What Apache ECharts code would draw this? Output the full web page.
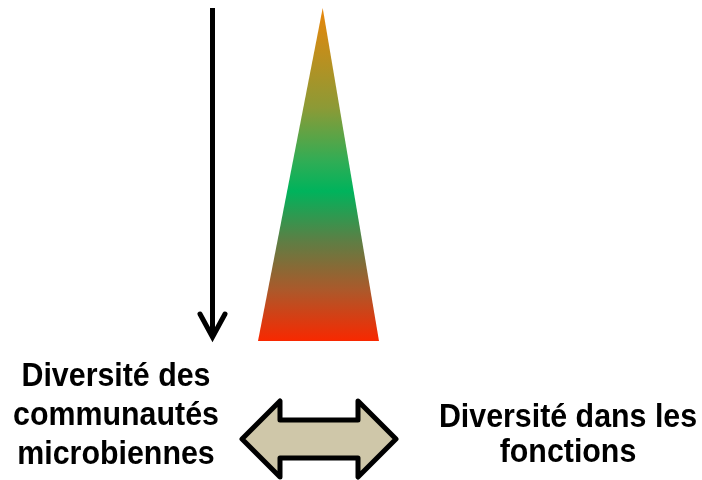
<!DOCTYPE html>
<html><head><meta charset="utf-8">
<script src="https://cdn.jsdelivr.net/npm/echarts@6/dist/echarts.min.js"></script>
<style>html,body{margin:0;padding:0;background:#fff}#c{width:702px;height:480px}</style>
</head><body><div id="c"></div>
<script>
var leftLabel = ['Diversité des', 'communautés', 'microbiennes'];
var rightLabel = ['Diversité dans les', 'fonctions'];
var gradientStops = [
  [0, '#e8860a'], [0.3, '#8c9a36'], [0.46, '#30ad55'], [0.55, '#00b35c'],
  [0.7, '#5e7e44'], [0.85, '#ad582a'], [1, '#f82800']
];
var FONT = '"Liberation Sans Narrow", "Arial Narrow", "Liberation Sans", Arial, sans-serif';

var chart = echarts.init(document.getElementById('c'), null, {renderer: 'canvas'});
var graphics = [];
// vertical arrow
graphics.push({type: 'line', shape: {x1: 212.5, y1: 8, x2: 212.5, y2: 336}, style: {stroke: '#000', lineWidth: 5}});
graphics.push({type: 'polyline', shape: {points: [[200, 314], [212.5, 337], [225, 314]]},
  style: {stroke: '#000', lineWidth: 5, fill: null, lineJoin: 'miter', lineCap: 'round'}});
// triangle
graphics.push({type: 'polygon', shape: {points: [[322.7, 8], [379, 341], [258, 341]]},
  style: {fill: {type: 'linear', x: 0, y: 0, x2: 0, y2: 1,
    colorStops: gradientStops.map(function (s) { return {offset: s[0], color: s[1]}; })}}});
// double arrow
graphics.push({type: 'polygon', shape: {points: [
  [242, 439], [280, 401], [280, 420], [358, 420], [358, 401], [396, 439],
  [358, 477], [358, 458], [280, 458], [280, 477]]},
  style: {fill: '#cfc7a9', stroke: '#000', lineWidth: 5, lineJoin: 'round'}});
// texts
leftLabel.forEach(function (t, i) {
  graphics.push({type: 'text', x: 116, y: 377 + i * 39, scaleX: 0.92,
    style: {text: t, font: 'bold 33px ' + FONT, fill: '#000', textAlign: 'center', textVerticalAlign: 'middle'}});
});
rightLabel.forEach(function (t, i) {
  graphics.push({type: 'text', x: 568, y: 418 + i * 35, scaleX: 0.92,
    style: {text: t, font: 'bold 33px ' + FONT, fill: '#000', textAlign: 'center', textVerticalAlign: 'middle'}});
});
chart.setOption({animation: false, graphic: {elements: graphics}});
</script>
</body></html>
